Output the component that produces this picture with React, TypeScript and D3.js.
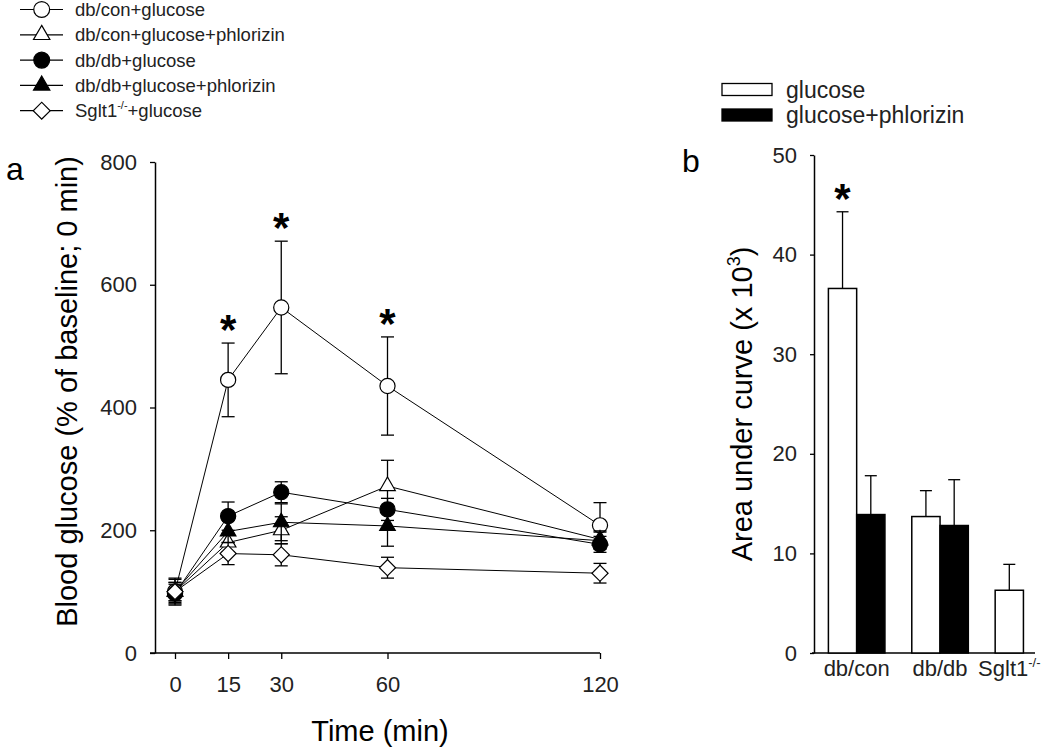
import React, { useRef, useEffect } from "react";
import * as d3 from "d3";

// ---- panel a: blood glucose time course ----
const timePoints = [0, 15, 30, 60, 120];
const yTicksA = [0, 200, 400, 600, 800];

const conGlucose = [100, 445, 563, 435, 208];
const conGlucoseErr = [20, 60, 108, 80, 37];
const conPhlorizin = [100, 180, 200, 272, 185];
const conPhlorizinErr = [15, 15, 22, 42, 14];
const dbGlucose = [97, 223, 262, 234, 177];
const dbGlucoseErr = [15, 23, 17, 18, 13];
const dbPhlorizin = [100, 198, 213, 207, 183];
const dbPhlorizinErr = [15, 18, 30, 33, 14];
const sgltGlucose = [100, 162, 160, 139, 130];
const sgltGlucoseErr = [22, 18, 18, 17, 16];

const seriesNames = [
  "db/con+glucose",
  "db/con+glucose+phlorizin",
  "db/db+glucose",
  "db/db+glucose+phlorizin",
  "Sglt1",
];
const seriesMeans = [conGlucose, conPhlorizin, dbGlucose, dbPhlorizin, sgltGlucose];
const seriesErrs = [conGlucoseErr, conPhlorizinErr, dbGlucoseErr, dbPhlorizinErr, sgltGlucoseErr];
const seriesShapes = ["circle", "triangle", "circle", "triangle", "diamond"];
const seriesFilled = [false, false, true, true, false];

// time points with significance star (db/con+glucose)
const starTimes = [15, 30, 60];

// ---- panel b: area under curve ----
const aucGroups = ["db/con", "db/db", "Sglt1"];
const aucTreatments = ["glucose", "glucose+phlorizin"];
const aucGlucose = [36.6, 13.7, 6.3];
const aucGlucoseErr = [7.7, 2.6, 2.6];
const aucPhlorizin = [13.9, 12.8, null];
const aucPhlorizinErr = [3.9, 4.6, null];
const yTicksB = [0, 10, 20, 30, 40, 50];

const W = 1050;
const H = 748;
const FONT = "'Liberation Sans', Arial, Helvetica, sans-serif";

const drawMarker = (sel, shape, filled, cx, cy, k = 1) => {
  const fill = filled ? "#000" : "#fff";
  let path;
  if (shape === "circle") path = d3.symbol(d3.symbolCircle, 180 * k)();
  else if (shape === "triangle") path = d3.symbol(d3.symbolTriangle, 105 * k)();
  else path = d3.symbol(d3.symbolSquare, 130 * k)();
  sel.append("path")
    .attr("d", path)
    .attr("transform", `translate(${cx},${cy})${shape === "diamond" ? " rotate(45)" : ""}`)
    .attr("fill", fill)
    .attr("stroke", "#000")
    .attr("stroke-width", 1.2);
};

const App = () => {
  const svgRef = useRef(null);

  useEffect(() => {
    const svg = d3.select(svgRef.current);
    svg.selectAll("*").remove();
    svg.append("rect").attr("width", W).attr("height", H).attr("fill", "#fff");
    const root = svg.append("g").attr("font-family", FONT).attr("fill", "#000");

    // ===== panel a =====
    const x = d3.scaleLinear().domain([0, 120]).range([175, 600]);
    const y = d3.scaleLinear().domain([0, 800]).range([653, 162]);
    const yAxisX = 155;

    const ya = root.append("g")
      .attr("transform", `translate(${yAxisX},0)`)
      .call(d3.axisLeft(y).tickValues(yTicksA).tickSize(5).tickSizeOuter(0).tickPadding(13));
    ya.selectAll("text").attr("font-size", 22).attr("font-family", FONT).attr("fill", "#222");
    ya.selectAll("line").attr("stroke-width", 1.3);
    ya.select(".domain").attr("stroke-width", 1.5);

    const xa = root.append("g")
      .attr("transform", `translate(0,${y(0)})`)
      .call(d3.axisBottom(x).tickValues(timePoints).tickSize(6).tickSizeOuter(0).tickPadding(17));
    xa.select(".domain").remove();
    xa.selectAll("text").attr("font-size", 22).attr("font-family", FONT).attr("fill", "#222");
    xa.selectAll("line").attr("stroke-width", 1.3);
    xa.append("line")
      .attr("x1", yAxisX - 5).attr("x2", x(120))
      .attr("stroke", "#000").attr("stroke-width", 1.5);

    // axis titles
    root.append("text")
      .attr("transform", `translate(77,${(y(0) + y(800)) / 2 - 16}) rotate(-90)`)
      .attr("text-anchor", "middle")
      .attr("font-size", 29)
      .text("Blood glucose (% of baseline; 0 min)");
    root.append("text")
      .attr("x", 380).attr("y", 741)
      .attr("text-anchor", "middle")
      .attr("font-size", 29)
      .text("Time (min)");
    root.append("text").attr("x", 6).attr("y", 180).attr("font-size", 32).text("a");

    const line = d3.line().x((d, j) => x(timePoints[j])).y(d => y(d));
    const plot = root.append("g");
    seriesMeans.forEach(m => {
      plot.append("path").attr("d", line(m)).attr("fill", "none")
        .attr("stroke", "#000").attr("stroke-width", 1);
    });
    seriesMeans.forEach((m, i) => {
      const eg = plot.append("g").attr("stroke", "#000").attr("stroke-width", 1.3);
      m.forEach((v, j) => {
        const cx = x(timePoints[j]);
        const e = seriesErrs[i][j];
        eg.append("line").attr("x1", cx).attr("x2", cx).attr("y1", y(v - e)).attr("y2", y(v + e));
        [v - e, v + e].forEach(val => {
          eg.append("line").attr("x1", cx - 6.5).attr("x2", cx + 6.5).attr("y1", y(val)).attr("y2", y(val));
        });
      });
      m.forEach((v, j) => drawMarker(plot, seriesShapes[i], seriesFilled[i], x(timePoints[j]), y(v)));
    });

    // significance stars
    const starFs = 42;
    starTimes.forEach(t => {
      const j = timePoints.indexOf(t);
      const top = conGlucose[j] + conGlucoseErr[j] + 37;
      root.append("text")
        .attr("x", x(t)).attr("y", y(top) + 0.56 * starFs)
        .attr("text-anchor", "middle")
        .attr("font-size", starFs).attr("font-weight", "bold")
        .text("*");
    });

    // legend a
    const legA = root.append("g");
    seriesNames.forEach((name, i) => {
      const ly = 9.5 + i * 25.3;
      legA.append("line").attr("x1", 20).attr("x2", 63).attr("y1", ly).attr("y2", ly)
        .attr("stroke", "#000").attr("stroke-width", 1.2);
      drawMarker(legA, seriesShapes[i], seriesFilled[i], 41.7, ly, 1.1);
      const t = legA.append("text").attr("x", 75).attr("y", ly + 6.5).attr("font-size", 18.5).attr("fill", "#222");
      if (name === "Sglt1") {
        t.append("tspan").text("Sglt1");
        t.append("tspan").attr("font-size", 11).attr("dy", -8).text("-/-");
        t.append("tspan").attr("dy", 8).text("+glucose");
      } else {
        t.text(name);
      }
    });

    // ===== panel b =====
    const yb = d3.scaleLinear().domain([0, 50]).range([653, 155]);
    const yAxisBX = 814;
    const xb = d3.scaleBand().domain(aucGroups).range([828.4, 1051.7]).paddingInner(0.322).paddingOuter(0);
    const xs = d3.scaleBand().domain(aucTreatments).range([0, xb.bandwidth()]);

    const ybAxis = root.append("g")
      .attr("transform", `translate(${yAxisBX},0)`)
      .call(d3.axisLeft(yb).tickValues(yTicksB).tickSize(4).tickSizeOuter(0).tickPadding(13));
    ybAxis.selectAll("text").attr("font-size", 22).attr("font-family", FONT).attr("fill", "#222");
    ybAxis.selectAll("line").attr("stroke-width", 1.3);
    ybAxis.select(".domain").attr("stroke-width", 1.5);

    root.append("line")
      .attr("x1", yAxisBX - 2).attr("x2", 1035)
      .attr("y1", yb(0)).attr("y2", yb(0))
      .attr("stroke", "#000").attr("stroke-width", 1.5);

    const bars = root.append("g");
    const values = [aucGlucose, aucPhlorizin];
    const errs = [aucGlucoseErr, aucPhlorizinErr];
    aucGroups.forEach((grp, gi) => {
      const centers = [];
      aucTreatments.forEach((tr, ti) => {
        const v = values[ti][gi];
        if (v == null) return;
        const bx = xb(grp) + xs(tr);
        const cx = bx + xs.bandwidth() / 2;
        centers.push(cx);
        const e = errs[ti][gi];
        bars.append("line").attr("x1", cx).attr("x2", cx).attr("y1", yb(v)).attr("y2", yb(v + e))
          .attr("stroke", "#000").attr("stroke-width", 1.3);
        bars.append("line").attr("x1", cx - 6).attr("x2", cx + 6).attr("y1", yb(v + e)).attr("y2", yb(v + e))
          .attr("stroke", "#000").attr("stroke-width", 1.3);
        bars.append("rect")
          .attr("x", bx).attr("y", yb(v))
          .attr("width", xs.bandwidth()).attr("height", yb(0) - yb(v))
          .attr("fill", ti === 0 ? "#fff" : "#000")
          .attr("stroke", "#000").attr("stroke-width", 1.5);
      });
      const lx = d3.mean(centers);
      const t = root.append("text").attr("x", lx).attr("y", 676)
        .attr("text-anchor", "middle").attr("font-size", 22).attr("fill", "#222");
      if (grp === "Sglt1") {
        t.append("tspan").text("Sglt1");
        t.append("tspan").attr("font-size", 13).attr("dy", -9).text("-/-");
      } else {
        t.text(grp);
      }
    });

    // star over db/con glucose
    const sx = xb("db/con") + xs("glucose") + xs.bandwidth() / 2;
    root.append("text")
      .attr("x", sx).attr("y", yb(aucGlucose[0] + aucGlucoseErr[0]) - 22 + 0.56 * starFs)
      .attr("text-anchor", "middle")
      .attr("font-size", starFs).attr("font-weight", "bold")
      .text("*");

    const yl = root.append("text")
      .attr("transform", `translate(752,404) rotate(-90)`)
      .attr("text-anchor", "middle")
      .attr("font-size", 29);
    yl.append("tspan").text("Area under curve (x 10");
    yl.append("tspan").attr("font-size", 18).attr("dy", -12).text("3");
    yl.append("tspan").attr("dy", 12).text(")");

    root.append("text").attr("x", 682).attr("y", 172).attr("font-size", 32).text("b");

    // legend b
    const legB = root.append("g");
    aucTreatments.forEach((tr, i) => {
      const ly = 89.5 + i * 25.5;
      legB.append("rect").attr("x", 722).attr("y", ly - 6).attr("width", 50).attr("height", 12)
        .attr("fill", i === 0 ? "#fff" : "#000").attr("stroke", "#000").attr("stroke-width", 1.3);
      legB.append("text").attr("x", 786).attr("y", ly + 8).attr("font-size", 23).attr("fill", "#222").text(tr);
    });
  }, []);

  return (
    <svg
      ref={svgRef}
      width={W}
      height={H}
      style={{ position: "absolute", left: 0, top: 0, display: "block" }}
    />
  );
};

export default App;
